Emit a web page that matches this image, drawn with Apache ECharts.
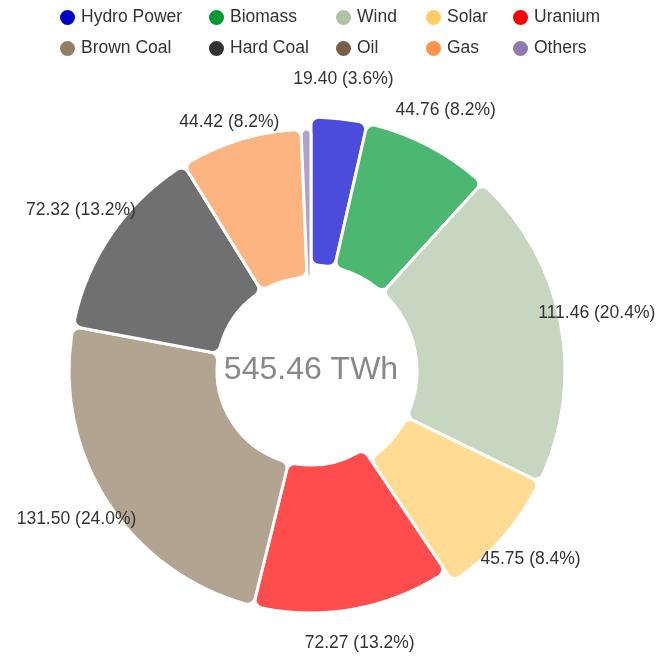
<!DOCTYPE html>
<html>
<head>
<meta charset="utf-8">
<script src="https://cdn.jsdelivr.net/npm/echarts@6/dist/echarts.min.js"></script>
<style>
  html, body { margin: 0; padding: 0; background: #fff; }
  #chart { width: 658px; height: 656px; }
</style>
</head>
<body>
<div id="chart"></div>
<script>
// energy mix, TWh
const names = ["Hydro Power", "Biomass", "Wind", "Solar", "Uranium", "Brown Coal", "Hard Coal", "Oil", "Gas", "Others"];
const values = [19.40, 44.76, 111.46, 45.75, 72.27, 131.50, 72.32, 0, 44.42, 3.58];
const shares = [3.6, 8.2, 20.4, 8.4, 13.2, 24.0, 13.2, 0, 8.2, 0.7]; // % as printed on the labels
const colors = ["#0000cc", "#009933", "#afc4a5", "#ffcc66", "#ff0000", "#937e64", "#333333", "#7a5f46", "#fb954b", "#9179b2"];
const renewables = ["Hydro Power", "Biomass", "Wind", "Solar"];
const legendColumns = [
  ["Hydro Power", "Brown Coal"],
  ["Biomass", "Hard Coal"],
  ["Wind", "Oil"],
  ["Solar", "Gas"],
  ["Uranium", "Others"]
];

const font = 'Arial, "Liberation Sans", sans-serif';
const legendLeft = [58, 207, 334, 424, 511];
const center = [311, 371];

const total = values.reduce((a, b) => a + b, 0);
const isRen = (n) => renewables.includes(n);

function fade(hex, a) {
  const v = parseInt(hex.slice(1), 16);
  return "rgba(" + (v >> 16) + "," + ((v >> 8) & 255) + "," + (v & 255) + "," + a + ")";
}

// one ring per group; the other group is folded into a single hidden filler slice
// so that angles stay the same in both rings
function ringData(keep) {
  const out = [];
  let filler = 0;
  names.forEach((n, i) => {
    if (isRen(n) === keep) {
      out.push({ name: n, value: values[i], itemStyle: { color: fade(colors[i], 0.7) } });
    } else {
      filler += values[i];
    }
  });
  const gap = { name: "_filler", value: filler, itemStyle: { color: "rgba(0,0,0,0)", borderWidth: 0 } };
  return keep ? out.concat([gap]) : [gap].concat(out);
}

const ringBase = {
  type: "pie",
  center: center,
  startAngle: 90,
  silent: true,
  itemStyle: { borderColor: "#fff", borderWidth: 3, borderRadius: 8 },
  label: { show: false },
  labelLine: { show: false },
  emphasis: { disabled: true }
};

const chart = echarts.init(document.getElementById("chart"));

const option = {
  animation: false,
  legend: legendColumns.map((col, k) => ({
    orient: "vertical",
    left: legendLeft[k],
    top: 8,
    padding: 0,
    data: col.map((n) => ({ name: n, itemStyle: { color: colors[names.indexOf(n)] } })),
    icon: "circle",
    itemWidth: 17,
    itemHeight: 17,
    itemGap: 12,
    textStyle: { fontSize: 17.5, color: "#333", fontFamily: font }
  })),
  graphic: [
    {
      type: "text",
      x: center[0],
      y: center[1] - 1,
      silent: true,
      style: {
        text: total.toFixed(2) + " TWh",
        fill: "#888",
        fontSize: 32,
        fontFamily: font,
        textAlign: "center",
        textVerticalAlign: "middle"
      }
    }
  ],
  series: [
    Object.assign({}, ringBase, { name: "renewable", radius: [106, 254], data: ringData(true) }),
    Object.assign({}, ringBase, { name: "conventional", radius: [94, 242], data: ringData(false) }),
    {
      // transparent ring only used to place the value labels
      type: "pie",
      center: [center[0], center[1] - 3],
      radius: [264, 288],
      startAngle: 90,
      silent: true,
      selectedMode: "multiple",
      selectedOffset: 12,
      minShowLabelAngle: 3,
      itemStyle: { color: "rgba(0,0,0,0)", borderWidth: 0 },
      label: {
        position: "inside",
        color: "#333",
        fontSize: 17.5,
        fontFamily: font,
        formatter: (p) => values[p.dataIndex].toFixed(2) + " (" + shares[p.dataIndex].toFixed(1) + "%)"
      },
      labelLine: { show: false },
      emphasis: { disabled: true },
      select: { itemStyle: { color: "rgba(0,0,0,0)", borderWidth: 0 }, label: { color: "#333" } },
      data: names.map((n, i) => ({
        name: "label " + n,
        value: values[i],
        selected: isRen(n),
        // the Gas label sits lower in the original, close to its slice
        label: n === "Gas" ? { offset: [0, 21] } : undefined
      }))
    }
  ]
};

chart.setOption(option);
</script>
</body>
</html>
